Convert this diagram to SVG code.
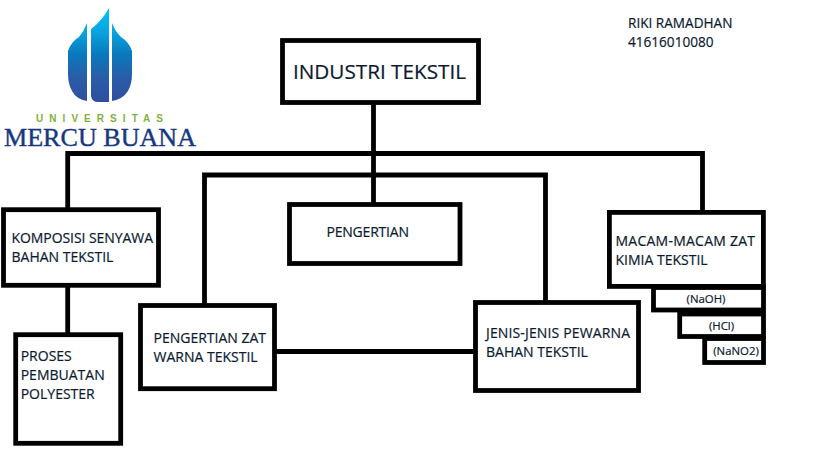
<svg xmlns="http://www.w3.org/2000/svg" width="819" height="460" viewBox="0 0 819 460">
<style>
.box{fill:#fff;stroke:#000;stroke-width:4.8}
.line{fill:none;stroke:#000;stroke-width:4.8}
text{font-family:"Open Sans","Noto Sans",sans-serif;font-size:14px;fill:#0c1a30;stroke:#0c1a30;stroke-width:.2}
.s{font-size:11.4px;text-anchor:middle}
.a{font-size:13.6px}
</style>
<defs>
<linearGradient id="drop" gradientUnits="userSpaceOnUse" x1="0" y1="8" x2="0" y2="102">
<stop offset="0" stop-color="#00c4f8"/>
<stop offset=".25" stop-color="#08a4e0"/>
<stop offset=".5" stop-color="#0a78bc"/>
<stop offset=".75" stop-color="#2b5ca8"/>
<stop offset="1" stop-color="#2d4f9e"/>
</linearGradient>
</defs>
<rect width="819" height="460" fill="#fff"/>
<g id="logo">
<path fill="url(#drop)" d="M87 23V101Q76 99 72 91Q68 84 68 74V51Q71 42 79 37Q84 31 87 23Z"/>
<path fill="url(#drop)" d="M109 8V102H98Q92 102 91 96V29Q101 22 109 8Z"/>
<path fill="url(#drop)" d="M112 23V101Q123 99 128 91Q132 84 132 74V51Q129 42 121 37Q115 31 112 23Z"/>
<text x="36" y="121.500" textLength="127" style="font-family:'Liberation Sans',sans-serif;font-size:10px;font-weight:bold;fill:#7fb23a;stroke:none">UNIVERSITAS</text>
<text x="4" y="146" textLength="192" lengthAdjust="spacingAndGlyphs" style="font-family:'Liberation Serif',serif;font-size:25px;fill:#17387f;stroke:#17387f;stroke-width:.4">MERCU BUANA</text>
</g>
<g id="connectors">
<path class="line" d="M67.700 208V153.500H702.500V211M373.500 103V203M204.500 304V175H545.500V301M67.700 286V334M275 351.500H475"/>
</g>
<g id="industri"><rect class="box" x="282.500" y="40.500" width="196" height="62"/><text x="293" y="79" style="font-size:20.700px">INDUSTRI TEKSTIL</text></g>
<g id="pengertian"><rect class="box" x="289.500" y="204.500" width="170.500" height="59"/><text x="326.500" y="237" textLength="82.500">PENGERTIAN</text></g>
<g id="komposisi"><rect class="box" x="3.500" y="209.700" width="155" height="75.600"/><text x="11.500" y="242.700" textLength="141.500">KOMPOSISI SENYAWA</text><text x="11.500" y="261.700">BAHAN TEKSTIL</text></g>
<g id="proses"><rect class="box" x="15.700" y="334.700" width="105" height="108.600"/><text x="20.700" y="361">PROSES</text><text x="20.700" y="380">PEMBUATAN</text><text x="20.700" y="399">POLYESTER</text></g>
<g id="zat"><rect class="box" x="140.500" y="305.500" width="134" height="83.200"/><text x="153.500" y="343">PENGERTIAN ZAT</text><text x="153.500" y="362">WARNA TEKSTIL</text></g>
<g id="jenis"><rect class="box" x="475.500" y="302.500" width="163" height="88"/><text x="486" y="337.700" textLength="144">JENIS-JENIS PEWARNA</text><text x="486" y="357">BAHAN TEKSTIL</text></g>
<g id="naoh"><rect class="box" x="653.500" y="287.500" width="110" height="22.500"/><text class="s" x="706" y="302.700">(NaOH)</text></g>
<g id="hcl"><rect class="box" x="679.700" y="314" width="83.800" height="22.500"/><text class="s" x="721.500" y="330">(HCl)</text></g>
<g id="nano2"><rect class="box" x="704.700" y="338.500" width="58.800" height="24"/><text class="s" x="736" y="355">(NaNO2)</text></g>
<g id="macam"><rect class="box" x="609.400" y="212.400" width="154" height="74"/><text x="615.500" y="246" textLength="139.500">MACAM-MACAM ZAT</text><text x="615.500" y="265">KIMIA TEKSTIL</text></g>
<g id="author"><text class="a" x="628" y="28">RIKI RAMADHAN</text><text class="a" x="628" y="47">41616010080</text></g>
</svg>
